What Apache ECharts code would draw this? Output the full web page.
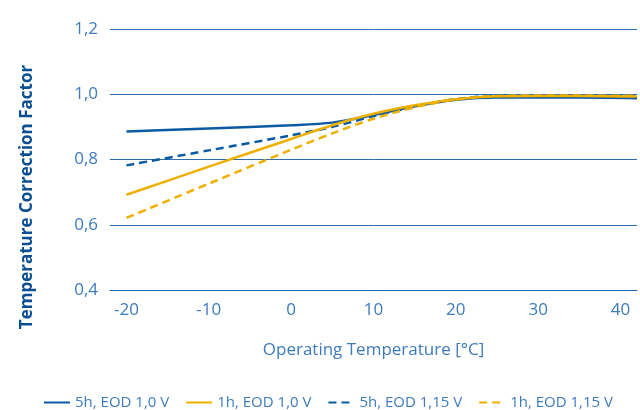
<!DOCTYPE html>
<html>
<head>
<meta charset="utf-8">
<script src="https://cdn.jsdelivr.net/npm/echarts@6/dist/echarts.min.js"></script>
<style>
html,body{margin:0;padding:0;background:#fff;}
#chart{width:640px;height:410px;}
</style>
</head>
<body>
<div id="chart"></div>
<script>
var temps = [-20, -10, 0, 5, 10, 15, 20, 25, 30, 35, 42];
var blue5hEod10 = [0.886, 0.895, 0.905, 0.913, 0.936, 0.963, 0.983, 0.990, 0.990, 0.990, 0.988];
var yellow1hEod10 = [0.692, 0.778, 0.863, 0.905, 0.940, 0.966, 0.985, 0.994, 0.995, 0.995, 0.993];
var blue5hEod115 = [0.782, 0.828, 0.874, 0.900, 0.933, 0.963, 0.985, 0.995, 0.995, 0.995, 0.995];
var yellow1hEod115 = [0.621, 0.726, 0.830, 0.880, 0.925, 0.960, 0.984, 0.995, 0.996, 0.996, 0.995];
var seriesNames = ['5h, EOD 1,0 V', '1h, EOD 1,0 V', '5h, EOD 1,15 V', '1h, EOD 1,15 V'];
var yTicks = [0.4, 0.6, 0.8, 1.0, 1.2];
var xTicks = [-20, -10, 0, 10, 20, 30, 40];

var BLUE = '#0a5aa3';
var YELLOW = '#eeb000';
var TXT = '#3d7bbd';

function pairs(vals) { return temps.map(function (t, i) { return [t, vals[i]]; }); }

var chart = echarts.init(document.getElementById('chart'), null, {renderer: 'canvas'});
var option = {
  animation: false,
  backgroundColor: '#ffffff',
  grid: {left: 110, right: 0, top: 29, bottom: 120, containLabel: false},
  xAxis: {
    type: 'value', min: -22, max: 42,
    interval: 2,
    axisLine: {show: true, lineStyle: {color: '#2166aa', width: 1}},
    axisTick: {show: false},
    splitLine: {show: false},
    axisLabel: {
      color: TXT, fontFamily: 'Open Sans', fontSize: 17, margin: 12,
      formatter: function (v) { return xTicks.indexOf(v) >= 0 ? String(v) : ''; },
      showMinLabel: true, showMaxLabel: true
    },
    name: 'Operating Temperature [°C]',
    nameLocation: 'middle', nameGap: 52,
    nameTextStyle: {color: TXT, fontFamily: 'Open Sans', fontSize: 17}
  },
  yAxis: {
    type: 'value', min: 0.4, max: 1.2, interval: 0.2,
    axisLine: {show: false},
    axisTick: {show: false},
    splitLine: {show: true, lineStyle: {color: '#2a6cad', width: 1}},
    axisLabel: {
      color: TXT, fontFamily: 'Open Sans', fontSize: 17, margin: 12,
      formatter: function (v) { return v.toFixed(1).replace('.', ','); }
    }
  },
  legend: {
    top: 390, left: 38,
    itemWidth: 26, itemHeight: 12, itemGap: 16,
    itemStyle: {opacity: 0},
    textStyle: {color: TXT, fontFamily: 'Open Sans', fontSize: 15},
    data: seriesNames
  },
  graphic: [{
    type: 'text', x: 27, y: 197, rotation: Math.PI / 2,
    style: {
      text: 'Temperature Correction Factor',
      fill: '#0b4f93', font: 'bold 17px "Open Sans"',
      align: 'center', verticalAlign: 'middle'
    }
  }],
  series: [
    {name: seriesNames[0], type: 'line', data: pairs(blue5hEod10), smooth: 0.3, symbol: 'none',
     lineStyle: {color: BLUE, width: 2.5, type: 'solid'}, itemStyle: {color: BLUE}, z: 2},
    {name: seriesNames[1], type: 'line', data: pairs(yellow1hEod10), smooth: 0.3, symbol: 'none',
     lineStyle: {color: YELLOW, width: 2.5, type: 'solid'}, itemStyle: {color: YELLOW}, z: 4},
    {name: seriesNames[2], type: 'line', data: pairs(blue5hEod115), smooth: 0.3, symbol: 'none',
     lineStyle: {color: BLUE, width: 2.5, type: [8, 5]}, itemStyle: {color: BLUE}, z: 3},
    {name: seriesNames[3], type: 'line', data: pairs(yellow1hEod115), smooth: 0.3, symbol: 'none',
     lineStyle: {color: YELLOW, width: 2.5, type: [8, 5]}, itemStyle: {color: YELLOW}, z: 5}
  ]
};
chart.setOption(option);
</script>
</body>
</html>
